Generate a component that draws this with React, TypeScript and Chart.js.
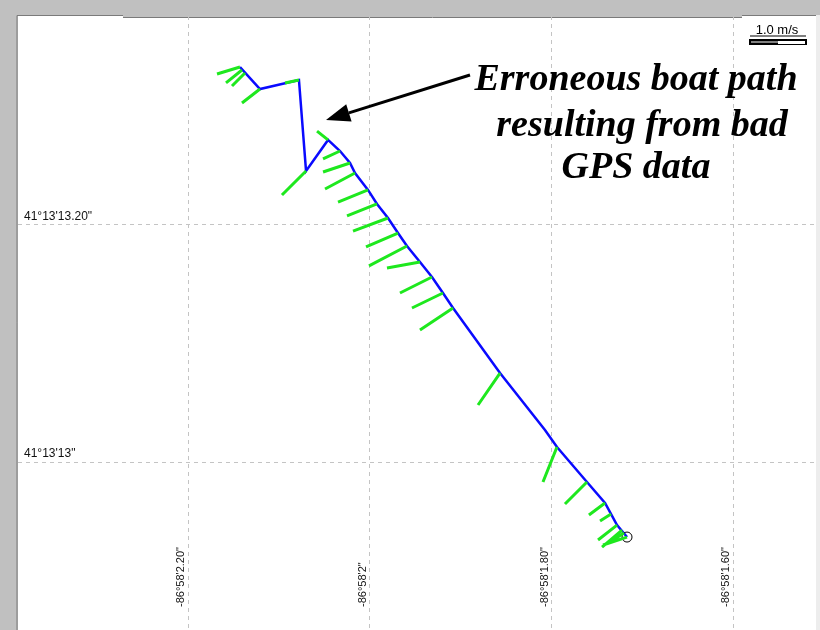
import React, { useEffect, useRef } from 'react';
import { Chart, registerables } from 'chart.js';
Chart.register(...registerables);

// Longitude expressed as seconds past -86°58' (negative = west), latitude as seconds past 41°13'
const xTickValues = [-2.2, -2.0, -1.8, -1.6];
const xTickLabels = ['-86°58\'2.20"', '-86°58\'2"', '-86°58\'1.80"', '-86°58\'1.60"'];
const yTickValues = [13.0, 13.2];
const yTickLabels = ['41°13\'13"', '41°13\'13.20"'];
const xRange = [-2.38745, -1.50908];
const yRange = [12.85853, 13.37558];

// Boat path (ensemble positions)
const pathLon = [-2.1431, -2.1211, -2.0782, -2.0704, -2.0462, -2.0330, -2.0220, -2.0165, -2.0022, -1.9923, -1.9802, -1.9692, -1.9593, -1.9450, -1.9318, -1.9197, -1.9086, -1.8569, -1.8074, -1.7942, -1.7612, -1.7413, -1.7281, -1.7171];
const pathLat = [13.3326, 13.3141, 13.3217, 13.2451, 13.2712, 13.2619, 13.2518, 13.2434, 13.2291, 13.2173, 13.2055, 13.1928, 13.1819, 13.1684, 13.1558, 13.1423, 13.1297, 13.0749, 13.0269, 13.0126, 12.9832, 12.9655, 12.9469, 12.9368];

// Depth-averaged velocity vectors: base and tip positions
const vecLon0 = [-2.1431, -2.1409, -2.1376, -2.1211, -2.0782, -2.0704, -2.0462, -2.0330, -2.0220, -2.0165, -2.0022, -1.9923, -1.9802, -1.9692, -1.9593, -1.9450, -1.9318, -1.9197, -1.9086, -1.8569, -1.7942, -1.7612, -1.7413, -1.7347, -1.7281, -1.7226, -1.7204, -1.7171];
const vecLat0 = [13.3326, 13.3301, 13.3276, 13.3141, 13.3217, 13.2451, 13.2712, 13.2619, 13.2518, 13.2434, 13.2291, 13.2173, 13.2055, 13.1928, 13.1819, 13.1684, 13.1558, 13.1423, 13.1297, 13.0749, 13.0126, 12.9832, 12.9655, 12.9562, 12.9469, 12.9427, 12.9402, 12.9368];
const vecLon1 = [-2.1684, -2.1585, -2.1519, -2.1409, -2.0936, -2.0969, -2.0583, -2.0517, -2.0517, -2.0495, -2.0352, -2.0253, -2.0187, -2.0044, -2.0011, -1.9813, -1.9670, -1.9538, -1.9450, -1.8811, -1.8096, -1.7854, -1.7590, -1.7468, -1.7490, -1.7446, -1.7358, -1.7435];
const vecLat1 = [13.3267, 13.3192, 13.3166, 13.3023, 13.3192, 13.2248, 13.2787, 13.2552, 13.2442, 13.2299, 13.2189, 13.2072, 13.1945, 13.1811, 13.1651, 13.1634, 13.1423, 13.1297, 13.1112, 13.0480, 12.9832, 12.9646, 12.9554, 12.9503, 12.9343, 12.9284, 12.9326, 12.9301];

const annotationLines = ['Erroneous boat path', 'resulting from bad', 'GPS data'];
const scaleBarLabel = '1.0 m/s';

const framePlugin = {
  id: 'frame',
  beforeDraw(chart: any) {
    const { ctx, chartArea: a, width, height } = chart;
    ctx.save();
    ctx.fillStyle = '#c0c0c0';
    ctx.fillRect(0, 0, width, height);
    ctx.fillStyle = '#ffffff';
    ctx.fillRect(a.left, a.top, a.right - a.left, height - a.top);
    // right light edge
    ctx.fillStyle = '#ededed';
    ctx.fillRect(a.right, a.top - 1, width - a.right, height);
    // top step
    ctx.fillStyle = '#c0c0c0';
    ctx.fillRect(123, a.top - 1, 619, 2);
    ctx.strokeStyle = '#7a7a7a';
    ctx.lineWidth = 1;
    ctx.beginPath();
    ctx.moveTo(a.left - 1, height);
    ctx.lineTo(a.left - 1, a.top - 0.5);
    ctx.lineTo(123, a.top - 0.5);
    ctx.moveTo(123, a.top + 1.5);
    ctx.lineTo(742, a.top + 1.5);
    ctx.moveTo(742, a.top - 0.5);
    ctx.lineTo(a.right, a.top - 0.5);
    ctx.stroke();
    ctx.restore();
  },
};

const labelPlugin = {
  id: 'labels',
  beforeDatasetsDraw(chart: any) {
    const { ctx } = chart;
    const xs = chart.scales.x;
    const ys = chart.scales.y;
    ctx.save();
    ctx.font = '11px "Liberation Sans", Arial, sans-serif';
    ctx.fillStyle = '#111';
    xTickValues.forEach((v, i) => {
      const px = xs.getPixelForValue(v);
      ctx.save();
      ctx.translate(px - 4, 607);
      ctx.rotate(-Math.PI / 2);
      ctx.textAlign = 'left';
      ctx.textBaseline = 'alphabetic';
      ctx.fillText(xTickLabels[i], 0, 0);
      ctx.restore();
    });
    ctx.font = '12px "Liberation Sans", Arial, sans-serif';
    yTickValues.forEach((v, i) => {
      const py = ys.getPixelForValue(v);
      ctx.textAlign = 'left';
      ctx.textBaseline = 'alphabetic';
      ctx.fillText(yTickLabels[i], 24, py - 5);
    });
    ctx.restore();
  },
  afterDraw(chart: any) {
    const { ctx } = chart;
    ctx.save();
    // scale bar
    ctx.font = '13px "Liberation Sans", Arial, sans-serif';
    ctx.fillStyle = '#000';
    ctx.textAlign = 'center';
    ctx.textBaseline = 'alphabetic';
    ctx.fillText(scaleBarLabel, 777, 34);
    ctx.fillRect(750, 35.5, 56, 1);
    ctx.fillRect(749, 39, 58, 6);
    ctx.fillStyle = '#fff';
    ctx.fillRect(751, 41.5, 27, 1);
    ctx.fillRect(778, 41, 27, 3);
    // annotation text
    ctx.fillStyle = '#000';
    ctx.font = 'italic bold 38px "Liberation Serif", "Times New Roman", serif';
    ctx.textAlign = 'center';
    ctx.fillText(annotationLines[0], 636, 90);
    ctx.fillText(annotationLines[1], 642, 136);
    ctx.fillText(annotationLines[2], 636, 178);
    // arrow
    const x0 = 470, y0 = 75, x1 = 326, y1 = 120;
    const ang = Math.atan2(y1 - y0, x1 - x0);
    const hl = 24, hw = 9;
    const bx = x1 - hl * Math.cos(ang), by = y1 - hl * Math.sin(ang);
    ctx.strokeStyle = '#000';
    ctx.lineWidth = 3;
    ctx.beginPath();
    ctx.moveTo(x0, y0);
    ctx.lineTo(bx, by);
    ctx.stroke();
    ctx.beginPath();
    ctx.moveTo(x1, y1);
    ctx.lineTo(bx + hw * Math.sin(ang), by - hw * Math.cos(ang));
    ctx.lineTo(bx - hw * Math.sin(ang), by + hw * Math.cos(ang));
    ctx.closePath();
    ctx.fill();
    ctx.restore();
  },
};

export default function App() {
  const ref = useRef<HTMLCanvasElement | null>(null);
  useEffect(() => {
    if (!ref.current) return;
    const pathData = pathLon.map((x, i) => ({ x, y: pathLat[i] }));
    const vecData: any[] = [];
    vecLon0.forEach((x, i) => {
      vecData.push({ x, y: vecLat0[i] });
      vecData.push({ x: vecLon1[i], y: vecLat1[i] });
      vecData.push({ x: vecLon1[i], y: null });
    });
    const last = pathData.length - 1;
    const chart = new Chart(ref.current, {
      type: 'scatter',
      data: {
        datasets: [
          {
            data: vecData,
            showLine: true,
            borderColor: '#1ee81e',
            borderWidth: 3,
            pointRadius: 0,
            tension: 0,
            spanGaps: false,
            order: 0,
          } as any,
          {
            data: pathData,
            showLine: true,
            borderColor: '#0a0aff',
            borderWidth: 2.5,
            tension: 0,
            pointRadius: (c: any) => (c.dataIndex === last ? 5 : 0),
            pointBorderColor: '#000',
            pointBackgroundColor: 'rgba(0,0,0,0)',
            pointBorderWidth: 1,
            order: 1,
          } as any,
        ],
      },
      options: {
        animation: false,
        responsive: false,
        devicePixelRatio: 1,
        layout: { autoPadding: false, padding: { left: 18, top: 16, right: 4, bottom: 0 } },
        plugins: { legend: { display: false }, tooltip: { enabled: false } },
        events: [],
        scales: {
          x: {
            type: 'linear',
            min: xRange[0],
            max: xRange[1],
            ticks: { display: false },
            grid: { color: '#c4c4c4', lineWidth: 1, drawTicks: false },
            border: { display: false, dash: [4, 4] },
            afterBuildTicks: (s: any) => { s.ticks = xTickValues.map((value) => ({ value })); },
            afterFit: (s: any) => { s.height = 0; },
          },
          y: {
            type: 'linear',
            min: yRange[0],
            max: yRange[1],
            ticks: { display: false },
            grid: { color: '#c4c4c4', lineWidth: 1, drawTicks: false },
            border: { display: false, dash: [4, 4] },
            afterBuildTicks: (s: any) => { s.ticks = yTickValues.map((value) => ({ value })); },
            afterFit: (s: any) => { s.width = 0; },
          },
        },
      } as any,
      plugins: [framePlugin, labelPlugin],
    });
    return () => chart.destroy();
  }, []);
  return (
    <div style={{ position: 'fixed', left: 0, top: 0, width: 820, height: 630 }}>
      <canvas ref={ref} width={820} height={630} style={{ display: 'block' }} />
    </div>
  );
}
